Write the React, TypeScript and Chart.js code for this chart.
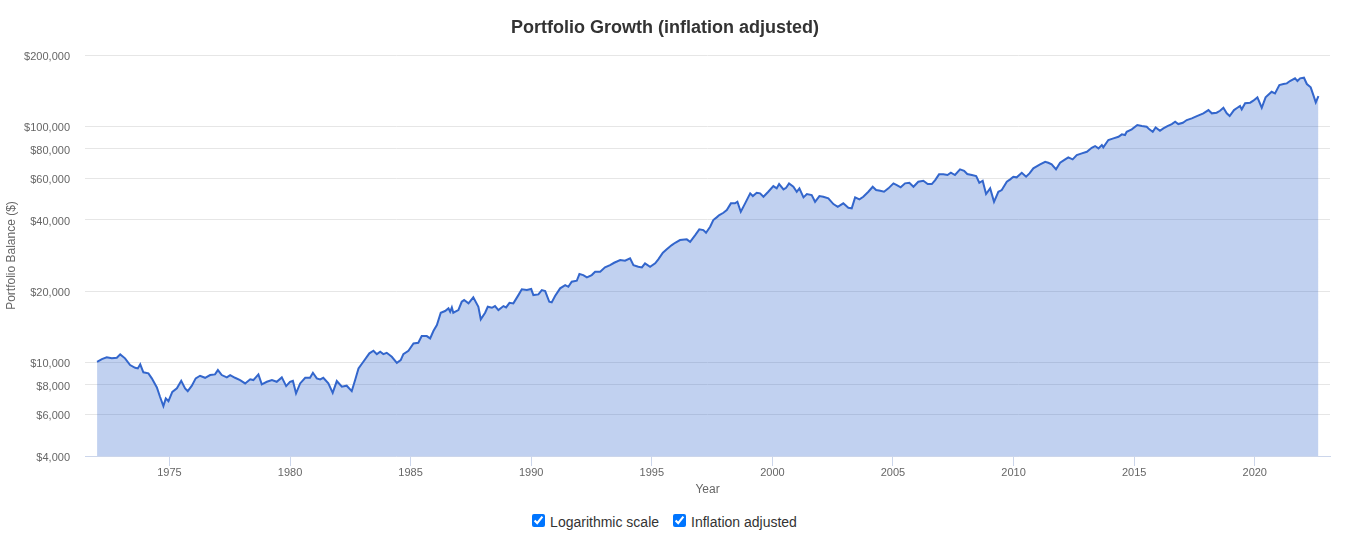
import React, { useEffect, useRef } from "react";
import { Chart, registerables } from "chart.js";

Chart.register(...registerables);

const titleText = "Portfolio Growth (inflation adjusted)";
const xTitle = "Year";
const yTitle = "Portfolio Balance ($)";
const legendItems = ["Logarithmic scale", "Inflation adjusted"];

const xTicks = [1975, 1980, 1985, 1990, 1995, 2000, 2005, 2010, 2015, 2020];
const yTicks = [4000, 6000, 8000, 10000, 20000, 40000, 60000, 80000, 100000, 200000];

const years = [
  1972.0, 1972.2, 1972.4, 1972.61, 1972.82, 1972.96, 1973.16, 1973.37, 1973.58, 1973.69,
  1973.79, 1973.92, 1974.13, 1974.27, 1974.48, 1974.61, 1974.75, 1974.85, 1974.96, 1975.12,
  1975.31, 1975.49, 1975.65, 1975.76, 1975.93, 1976.09, 1976.27, 1976.48, 1976.69, 1976.89,
  1977.01, 1977.17, 1977.38, 1977.52, 1977.72, 1977.93, 1978.14, 1978.35, 1978.48, 1978.69,
  1978.83, 1979.04, 1979.25, 1979.45, 1979.66, 1979.84, 1980.0, 1980.12, 1980.25, 1980.42,
  1980.63, 1980.83, 1980.95, 1981.11, 1981.25, 1981.38, 1981.59, 1981.77, 1981.94, 1982.15,
  1982.35, 1982.56, 1982.7, 1982.84, 1983.04, 1983.29, 1983.46, 1983.6, 1983.74, 1983.87,
  1984.01, 1984.22, 1984.43, 1984.59, 1984.7, 1984.91, 1985.12, 1985.32, 1985.46, 1985.67,
  1985.81, 1985.95, 1986.09, 1986.25, 1986.43, 1986.57, 1986.64, 1986.71, 1986.77, 1986.98,
  1987.12, 1987.22, 1987.4, 1987.6, 1987.81, 1987.91, 1988.09, 1988.2, 1988.37, 1988.5,
  1988.64, 1988.85, 1988.96, 1989.1, 1989.26, 1989.47, 1989.61, 1989.82, 1990.0, 1990.09,
  1990.3, 1990.44, 1990.58, 1990.75, 1990.85, 1990.99, 1991.2, 1991.41, 1991.54, 1991.68,
  1991.89, 1992.0, 1992.16, 1992.31, 1992.51, 1992.65, 1992.86, 1993.06, 1993.27, 1993.44,
  1993.69, 1993.89, 1994.1, 1994.24, 1994.44, 1994.59, 1994.72, 1994.93, 1995.14, 1995.27,
  1995.46, 1995.62, 1995.83, 1995.97, 1996.17, 1996.45, 1996.59, 1996.8, 1996.97, 1997.14,
  1997.25, 1997.42, 1997.55, 1997.69, 1997.8, 1997.97, 1998.11, 1998.28, 1998.45, 1998.55,
  1998.69, 1998.87, 1999.08, 1999.19, 1999.35, 1999.49, 1999.63, 1999.83, 2000.04, 2000.18,
  2000.28, 2000.46, 2000.57, 2000.69, 2000.87, 2001.01, 2001.12, 2001.29, 2001.43, 2001.63,
  2001.77, 2001.95, 2002.11, 2002.32, 2002.53, 2002.71, 2002.94, 2003.15, 2003.29, 2003.43,
  2003.61, 2003.77, 2003.98, 2004.16, 2004.3, 2004.47, 2004.63, 2004.81, 2005.02, 2005.16,
  2005.32, 2005.5, 2005.68, 2005.85, 2006.05, 2006.26, 2006.44, 2006.61, 2006.75, 2006.91,
  2007.09, 2007.26, 2007.4, 2007.57, 2007.78, 2007.95, 2008.08, 2008.27, 2008.45, 2008.58,
  2008.72, 2008.86, 2009.03, 2009.19, 2009.37, 2009.51, 2009.72, 2009.86, 2009.99, 2010.13,
  2010.34, 2010.52, 2010.66, 2010.82, 2011.1, 2011.31, 2011.44, 2011.58, 2011.76, 2011.93,
  2012.14, 2012.27, 2012.45, 2012.62, 2012.83, 2013.04, 2013.24, 2013.38, 2013.52, 2013.66,
  2013.72, 2013.93, 2014.14, 2014.35, 2014.49, 2014.62, 2014.69, 2014.9, 2015.13, 2015.32,
  2015.52, 2015.63, 2015.77, 2015.89, 2016.07, 2016.21, 2016.38, 2016.56, 2016.7, 2016.83,
  2017.02, 2017.18, 2017.39, 2017.6, 2017.87, 2018.08, 2018.22, 2018.42, 2018.56, 2018.7,
  2018.84, 2018.96, 2019.14, 2019.28, 2019.39, 2019.46, 2019.6, 2019.81, 2019.94, 2020.11,
  2020.29, 2020.45, 2020.7, 2020.84, 2021.02, 2021.19, 2021.33, 2021.46, 2021.67, 2021.77,
  2021.88, 2022.04, 2022.16, 2022.32, 2022.43, 2022.53, 2022.64,
];

const balance = [
  10030, 10300, 10470, 10370, 10430, 10780, 10370, 9710, 9460, 9400,
  9780, 9050, 8960, 8530, 7810, 7130, 6510, 7020, 6830, 7480,
  7740, 8330, 7740, 7530, 7940, 8530, 8750, 8580, 8810, 8870,
  9250, 8810, 8610, 8810, 8580, 8390, 8120, 8450, 8390, 8870,
  8050, 8250, 8390, 8250, 8610, 7910, 8250, 8330, 7370, 8120,
  8580, 8580, 9010, 8530, 8450, 8580, 8120, 7410, 8310, 7860,
  7940, 7530, 8390, 9400, 10030, 10890, 11170, 10810, 11060, 10810,
  10950, 10530, 9930, 10200, 10810, 11170, 12000, 12070, 12890, 12890,
  12600, 13570, 14350, 16180, 16450, 16890, 16340, 17050, 16180, 16610,
  18010, 18310, 17730, 18800, 17150, 15170, 16180, 17150, 16980, 17270,
  16610, 17270, 17050, 17830, 17730, 19220, 20330, 20190, 20390, 19220,
  19350, 20190, 20000, 18010, 17900, 19040, 20530, 21200, 20850, 21890,
  22110, 23600, 23370, 22850, 23370, 24140, 24140, 25190, 25760, 26350,
  27050, 26870, 27500, 25760, 25340, 25190, 26200, 25340, 26200, 27240,
  29050, 30030, 31310, 32030, 32880, 33110, 32340, 34520, 36500, 36250,
  35310, 37440, 39970, 41030, 41970, 42920, 44070, 47040, 47040, 47770,
  43340, 47040, 51870, 50520, 52180, 51870, 50170, 52680, 55690, 54450,
  56780, 53920, 54770, 57170, 55310, 52680, 54450, 49880, 51520, 51010,
  47770, 50520, 50170, 49390, 46720, 45500, 47040, 45060, 44800, 49880,
  48910, 50170, 52680, 55310, 53560, 53190, 52680, 54450, 57170, 56230,
  54990, 57170, 57500, 55310, 58070, 58640, 56780, 56780, 59040, 62430,
  62430, 62010, 63410, 62010, 65550, 64660, 62610, 62010, 61410, 57500,
  58640, 51520, 54450, 47770, 52680, 53560, 58070, 59440, 60990, 60630,
  63410, 60990, 63040, 66200, 68820, 70590, 69910, 68820, 65550, 69910,
  72260, 73690, 72260, 75360, 76620, 77830, 80930, 82280, 80450, 83080,
  81230, 87230, 88680, 90100, 92230, 91600, 94590, 96830, 100970, 100000,
  99320, 96830, 94590, 98740, 95520, 97790, 100000, 101970, 104280, 101970,
  103270, 106030, 107800, 110240, 113220, 116880, 113220, 113890, 116110, 119540,
  113220, 110240, 116880, 119540, 121540, 117700, 124880, 125600, 128040, 132300,
  119540, 132300, 139750, 137580, 149200, 150660, 151660, 155110, 159270, 155110,
  159270, 160240, 150660, 145880, 135300, 126000, 134000,
];

const FONT = '"Liberation Sans", Arial, Helvetica, sans-serif';

export default function App() {
  const ref = useRef<HTMLCanvasElement>(null);

  useEffect(() => {
    if (!ref.current) return;
    const titlePlugin = {
      id: "customTitle",
      afterDraw(chart: any) {
        const ctx = chart.ctx;
        ctx.save();
        ctx.font = `bold 18px ${FONT}`;
        ctx.fillStyle = "#333333";
        ctx.textAlign = "center";
        ctx.textBaseline = "middle";
        ctx.fillText(titleText, 665, 28);
        ctx.restore();
      },
    };
    const chart = new Chart(ref.current, {
      type: "line",
      data: {
        datasets: [
          {
            data: years.map((x, i) => ({ x, y: balance[i] })),
            borderColor: "#3366cc",
            backgroundColor: "rgba(51,102,204,0.3)",
            borderWidth: 2,
            pointRadius: 0,
            fill: "start",
            tension: 0,
          },
        ],
      },
      options: {
        animation: false,
        responsive: true,
        maintainAspectRatio: false,
        layout: { padding: { left: 4, right: 23, top: 55, bottom: 0 } },
        plugins: {
          legend: { display: false },
          tooltip: { enabled: false },
          title: { display: false },
        },
        scales: {
          x: {
            type: "linear",
            min: 1971.5,
            max: 2023.12,
            afterBuildTicks: (s: any) => {
              s.ticks = xTicks.map((v) => ({ value: v }));
            },
            afterFit: (s: any) => {
              s.height = 41;
            },
            grid: {
              drawOnChartArea: false,
              drawTicks: true,
              tickLength: 10,
              color: "#ccd6eb",
            },
            border: { display: true, color: "#ccd6eb" },
            ticks: {
              color: "#666666",
              font: { size: 11, family: FONT },
              padding: 0,
              maxRotation: 0,
              autoSkip: false,
              callback: (v: any) => String(v),
            },
            title: {
              display: true,
              text: xTitle,
              color: "#666666",
              font: { size: 12, family: FONT },
              padding: 0,
            },
          },
          y: {
            type: "logarithmic",
            min: 4000,
            max: 200000,
            afterBuildTicks: (s: any) => {
              s.ticks = yTicks.map((v) => ({ value: v }));
            },
            afterFit: (s: any) => {
              s.width = 81;
            },
            grid: { color: "#e6e6e6", drawTicks: false },
            border: { display: false },
            ticks: {
              color: "#666666",
              font: { size: 11, family: FONT },
              padding: 15,
              labelOffset: 2,
              autoSkip: false,
              callback: (v: any) => "$" + Number(v).toLocaleString("en-US"),
            },
            title: {
              display: true,
              text: yTitle,
              color: "#666666",
              font: { size: 12, family: FONT },
              padding: 0,
            },
          },
        },
      },
      plugins: [titlePlugin],
    } as any);
    return () => chart.destroy();
  }, []);

  return (
    <div style={{ position: "absolute", left: 0, top: 0, width: 1353, height: 538, background: "#fff" }}>
      <div style={{ position: "relative", width: 1353, height: 497 }}>
        <canvas ref={ref} />
      </div>
      <div
        style={{
          width: 1325,
          marginTop: 14,
          textAlign: "center",
          fontFamily: FONT,
          fontSize: 14,
          color: "#333333",
        }}
      >
        {legendItems.map((t, i) => (
          <label key={t} style={{ marginLeft: i === 0 ? 0 : 10 }}>
            <input type="checkbox" defaultChecked style={{ margin: "3px 5px 3px 4px" }} />
            {t}
          </label>
        ))}
      </div>
    </div>
  );
}
